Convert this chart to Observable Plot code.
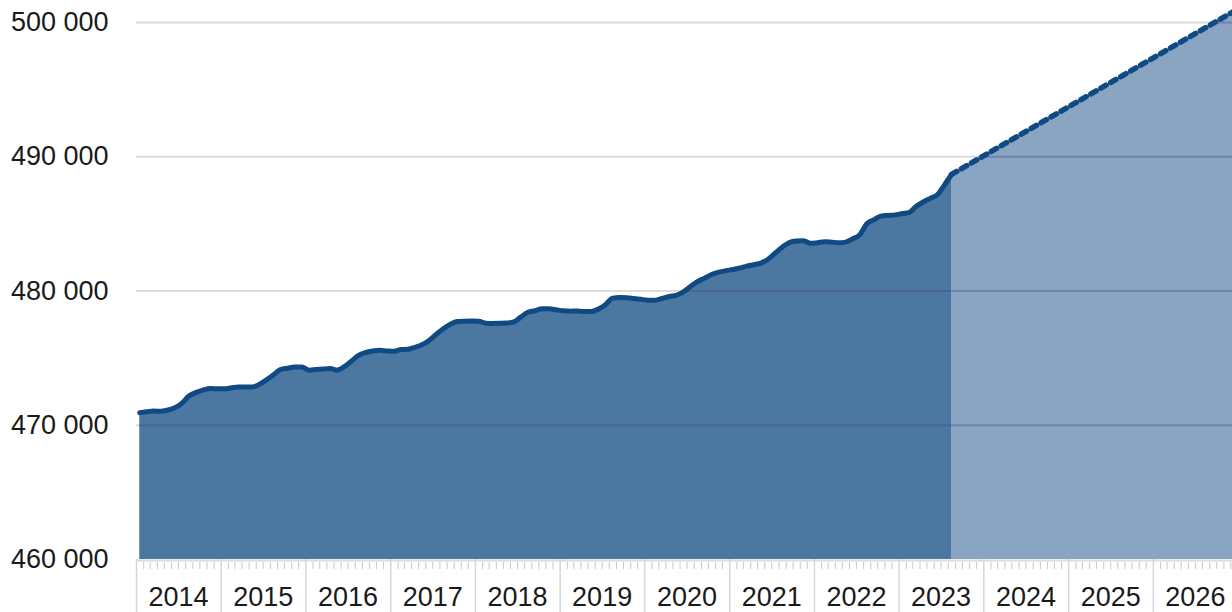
<!DOCTYPE html>
<html>
<head>
<meta charset="utf-8">
<script src="https://cdn.jsdelivr.net/npm/d3@7"></script>
<script src="https://cdn.jsdelivr.net/npm/@observablehq/plot@0.6"></script>
<style>
  html, body { margin: 0; padding: 0; background: #ffffff; }
  #chart svg { display: block; }
</style>
</head>
<body>
<div id="chart"></div>
<script>
// ---- Data ----
const startMonth = "2014-01-01";
// Monthly values, Jan 2014 .. Aug 2023
const actualValues = [
  470940, 471000, 471060, 471040, 471130, 471300, 471630, 472180, 472450, 472620, 472730, 472720,
  472710, 472790, 472850, 472850, 472850, 473050, 473380, 473760, 474160, 474250, 474330, 474330,
  474100, 474150, 474190, 474220, 474110, 474360, 474770, 475210, 475420, 475530, 475580, 475540,
  475510, 475640, 475660, 475800, 476000, 476320, 476760, 477190, 477530, 477720, 477750, 477760,
  477750, 477600, 477580, 477590, 477610, 477690, 478050, 478420, 478530, 478680, 478670, 478600,
  478530, 478500, 478510, 478480, 478480, 478650, 478980, 479470, 479520, 479500, 479440, 479380,
  479320, 479320, 479440, 479590, 479670, 479930, 480320, 480700, 480960, 481230, 481400, 481510,
  481600, 481720, 481850, 481960, 482080, 482370, 482810, 483260, 483610, 483730, 483750, 483550,
  483600, 483660, 483640, 483600, 483640, 483890, 484180, 485010, 485320, 485580, 485630, 485670,
  485770, 485860, 486300, 486630, 486900, 487170, 487890, 488680
];
// Projection (straight dotted line)
const projectionDates = ["2023-08-15", "2026-12-15"];
const projectionValues = [488680, 500850];

const yTicks = [460000, 470000, 480000, 490000, 500000];
const gridValues = [470000, 480000, 490000, 500000];
const yearLabels = [2014, 2015, 2016, 2017, 2018, 2019, 2020, 2021, 2022, 2023, 2024, 2025, 2026];

// ---- Build tables ----
const start = new Date(startMonth + "T00:00:00Z");
const actual = actualValues.map((v, i) => ({
  date: d3.utcDay.offset(d3.utcMonth.offset(start, i), 14),
  value: v
}));
const projection = projectionDates.map((d, i) => ({
  date: new Date(d + "T00:00:00Z"),
  value: projectionValues[i]
}));

const xDomain = [start, new Date("2026-12-08T00:00:00Z")];
const yDomain = [460000, 500000];

// Where each gridline enters the filled area (so it can be tinted over the area only)
const combined = actual.concat(projection.slice(1));
function crossing(v) {
  if (combined[0].value >= v) return combined[0].date;
  for (let i = 1; i < combined.length; i++) {
    const a = combined[i - 1], b = combined[i];
    if (a.value < v && b.value >= v) {
      const t = (v - a.value) / (b.value - a.value);
      return new Date(+a.date + t * (b.date - a.date));
    }
  }
  return xDomain[1];
}
const overlay = gridValues.map(v => ({value: v, x1: crossing(v), x2: xDomain[1]}));

const yearStarts = yearLabels.map(y => new Date(Date.UTC(y, 0, 1)));
const midYears = yearLabels.map(y => new Date(Date.UTC(y, 6, 1)));
const minorMonths = d3.utcMonth.range(start, new Date(Date.UTC(2027, 0, 1))).filter(d => d.getUTCMonth() !== 0);

const fmt = d3.formatLocale({decimal: ",", thousands: " ", grouping: [3], currency: ["", ""]}).format(",");

const navy = "#104a84";

const chart = Plot.plot({
  width: 1232,
  height: 612,
  marginLeft: 136,
  marginRight: 0,
  marginTop: 22,
  marginBottom: 53,
  style: {
    fontFamily: "'Liberation Sans', Arial, sans-serif",
    fontSize: "27px",
    color: "#1a1a1a",
    background: "#ffffff"
  },
  x: {type: "utc", domain: xDomain, label: null},
  y: {domain: yDomain, label: null},
  marks: [
    Plot.ruleY(gridValues, {stroke: "#dcdcdc", strokeWidth: 2}),
    Plot.ruleY([yDomain[0]], {stroke: "#dcdcdc", strokeWidth: 2, dy: 1}),
    Plot.areaY(projection, {x: "date", y1: yDomain[0], y2: "value", fill: "#89a5c1"}),
    Plot.areaY(actual, {x: "date", y1: yDomain[0], y2: "value", fill: "#4b77a1", curve: "monotone-x"}),
    Plot.ruleY(overlay, {y: "value", x1: "x1", x2: "x2", stroke: "#4a3f86", strokeOpacity: 0.35, strokeWidth: 2}),
    Plot.lineY(projection, {x: "date", y: "value", stroke: navy, strokeWidth: 5.5, strokeDasharray: "6,5.5"}),
    Plot.lineY(actual, {x: "date", y: "value", stroke: navy, strokeWidth: 5, curve: "monotone-x", strokeLinejoin: "round", strokeLinecap: "round"}),
    Plot.axisY({ticks: yTicks, tickSize: 0, tickPadding: 28, tickFormat: fmt}),
    Plot.axisX({ticks: yearStarts, tickSize: 53, tickFormat: () => "", stroke: "#d6d6d6", strokeWidth: 1.5}),
    Plot.axisX({ticks: minorMonths, tickSize: 7, dy: 3, tickFormat: () => "", stroke: "#c8c8c8", strokeWidth: 1}),
    Plot.axisX({ticks: midYears, tickSize: 0, tickPadding: 27, tickFormat: d3.utcFormat("%Y")})
  ]
});
document.getElementById("chart").appendChild(chart);
</script>
</body>
</html>
